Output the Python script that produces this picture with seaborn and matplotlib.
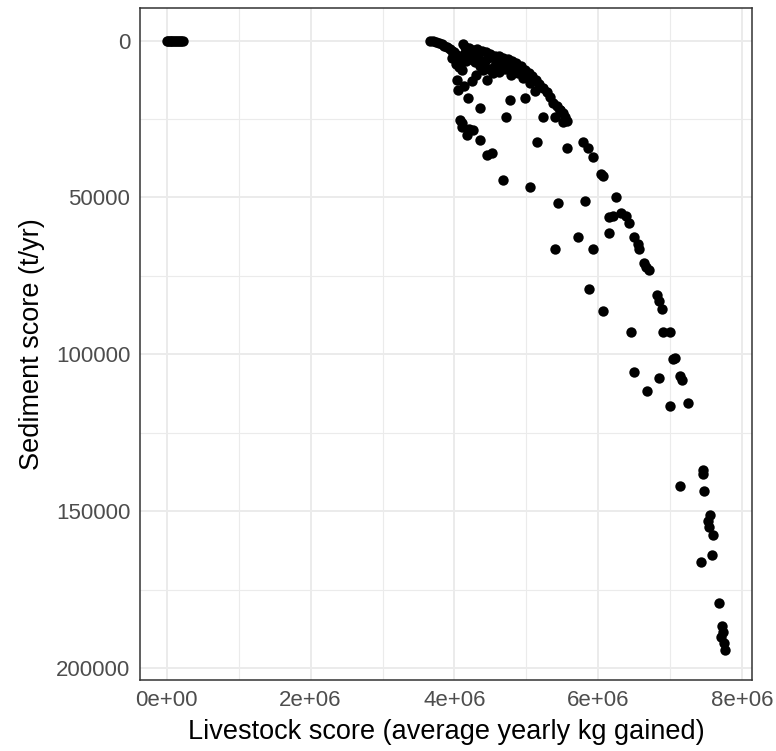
import numpy as np
import pandas as pd
import matplotlib
matplotlib.use("Agg")
import matplotlib.pyplot as plt
from matplotlib.ticker import FixedLocator
import seaborn as sns

# ---- data (livestock in million kg, sediment in thousand t/yr) ----
origin_x = [0.00, 0.02, 0.04, 0.06, 0.08, 0.10, 0.12, 0.14, 0.16, 0.18, 0.20, 0.22]
origin_y = [0.0] * 12

band_x = [3.66, 3.70, 3.74, 3.78, 3.82, 3.86, 3.90, 3.94, 3.97, 4.00, 4.03, 4.06, 4.09, 4.12,
          3.96, 4.02, 4.08, 4.14, 4.20, 4.26, 4.32, 4.38, 4.44, 4.50, 4.56, 4.62, 4.68, 4.74,
          4.80, 4.86, 4.92, 4.98, 5.03, 5.08, 5.13, 5.18, 5.23, 5.28, 5.33, 5.37, 5.42, 5.47,
          5.51, 5.54, 5.57]
band_y = [0.0, 0.2, 0.5, 0.8, 1.2, 1.6, 2.1, 2.6, 3.2, 3.8, 4.6, 5.4, 6.2, 1.1,
          5.5, 7.5, 8.5, 2.0, 2.4, 3.0, 2.6, 3.4, 3.8, 4.2, 4.8, 5.0, 5.6, 6.0,
          6.4, 7.2, 8.0, 9.4, 10.4, 11.3, 12.5, 14.0, 15.2, 16.5, 18.0, 19.9, 21.0, 22.0,
          23.2, 24.5, 25.7]

fill_x = [4.10, 4.15, 4.22, 4.28, 4.35, 4.42, 4.48, 4.55, 4.62, 4.70, 4.78, 4.88, 4.95, 5.05,
          5.12, 4.04, 4.05, 4.19, 4.36, 4.45, 4.54, 4.77, 4.71, 4.98, 5.23, 5.47, 5.40, 5.51,
          4.60, 4.30, 4.13, 4.24, 4.25, 4.33, 4.47, 4.58, 4.66, 4.72, 4.83, 4.90, 5.00, 4.40,
          4.16, 4.07]
fill_y = [9.5, 4.0, 6.0, 7.0, 8.0, 6.5, 9.0, 8.5, 10.0, 9.0, 11.0, 10.5, 12.0, 13.5,
          16.0, 12.6, 15.8, 18.3, 21.5, 12.6, 10.4, 19.0, 24.4, 18.3, 24.4, 22.2, 24.4, 26.0,
          5.8, 11.0, 14.5, 13.0, 4.5, 5.5, 5.5, 7.0, 8.0, 7.5, 9.0, 10.0, 11.5, 9.5,
          6.5, 8.5]

branch_x = [4.08, 4.10, 4.11, 4.20, 4.26, 4.18, 4.36, 4.45, 4.52]
branch_y = [25.4, 26.2, 27.6, 28.2, 28.5, 30.1, 31.7, 36.5, 35.9]

scatter_x = [4.68, 5.05, 5.15, 5.57, 5.79, 5.85, 5.93, 5.44, 5.82, 5.40, 5.72, 5.93, 5.87, 6.07]
scatter_y = [44.5, 46.7, 32.4, 34.3, 32.4, 34.3, 37.1, 51.8, 51.2, 66.5, 62.6, 66.5, 79.2, 86.2]

curve_x = [6.04, 6.07, 6.25, 6.15, 6.20, 6.31, 6.38, 6.42, 6.15, 6.50, 6.55, 6.57, 6.63, 6.66,
           6.70, 6.82, 6.84, 6.89, 6.46, 6.90, 6.99, 7.04, 7.07, 6.50, 6.85, 7.13, 7.16, 6.67,
           6.99, 7.24]
curve_y = [42.5, 43.2, 49.9, 56.3, 56.0, 55.0, 55.8, 58.2, 61.4, 62.6, 64.8, 66.5, 70.9, 72.0,
           73.1, 81.0, 83.0, 85.6, 92.9, 92.9, 92.9, 101.5, 101.0, 105.7, 107.6, 107.0, 108.0,
           111.7, 116.5, 115.5]

tail_x = [7.45, 7.46, 7.14, 7.47, 7.55, 7.52, 7.54, 7.60, 7.58, 7.43, 7.68, 7.72, 7.73, 7.71,
          7.74, 7.76]
tail_y = [136.8, 138.0, 142.0, 143.6, 151.0, 153.0, 155.0, 157.6, 164.0, 166.2, 179.3, 186.5,
          188.5, 190.1, 192.0, 194.0]

x_ticks = [0, 2e6, 4e6, 6e6, 8e6]
x_tick_labels = ["0e+00", "2e+06", "4e+06", "6e+06", "8e+06"]
y_ticks = [0, 50000, 100000, 150000, 200000]
y_tick_labels = ["0", "50000", "100000", "150000", "200000"]

xs = origin_x + band_x + fill_x + branch_x + scatter_x + curve_x + tail_x
ys = origin_y + band_y + fill_y + branch_y + scatter_y + curve_y + tail_y
df = pd.DataFrame({"livestock": np.array(xs) * 1e6, "sediment": np.array(ys) * 1e3})

# ---- plot ----
sns.set_style("white")
plt.rcParams["font.family"] = ["Liberation Sans", "DejaVu Sans"]

fig = plt.figure(figsize=(7.76, 7.51), dpi=100)
ax = fig.add_axes([140 / 776, 1 - 680 / 751, (752 - 140) / 776, (680 - 8) / 751])

sns.scatterplot(data=df, x="livestock", y="sediment", ax=ax, color="black",
                s=56, linewidth=0, zorder=3)

ax.set_xlim(-0.371e6, 8.136e6)
ax.set_ylim(203.7e3, -10.36e3)

ax.xaxis.set_major_locator(FixedLocator(x_ticks))
ax.yaxis.set_major_locator(FixedLocator(y_ticks))
ax.set_xticklabels(x_tick_labels)
ax.set_yticklabels(y_tick_labels)
ax.xaxis.set_minor_locator(FixedLocator([1e6, 3e6, 5e6, 7e6]))
ax.yaxis.set_minor_locator(FixedLocator([25000, 75000, 125000, 175000]))

ax.grid(True, which="major", color="#EBEBEB", linewidth=1.4, zorder=0)
ax.grid(True, which="minor", color="#EBEBEB", linewidth=0.8, zorder=0)
ax.set_axisbelow(True)

for sp in ax.spines.values():
    sp.set_color("#333333")
    sp.set_linewidth(1.1)
    sp.set_visible(True)

ax.tick_params(which="major", axis="both", length=4, width=1.1, color="#333333",
               labelsize=16, labelcolor="#4D4D4D", pad=3)
ax.tick_params(which="minor", length=0)

ax.set_xlabel("Livestock score (average yearly kg gained)", fontsize=19.5, color="black", labelpad=6)
ax.set_ylabel("Sediment score (t/yr)", fontsize=19.5, color="black", labelpad=8)

fig.savefig("out.png", dpi=100, facecolor="white")
